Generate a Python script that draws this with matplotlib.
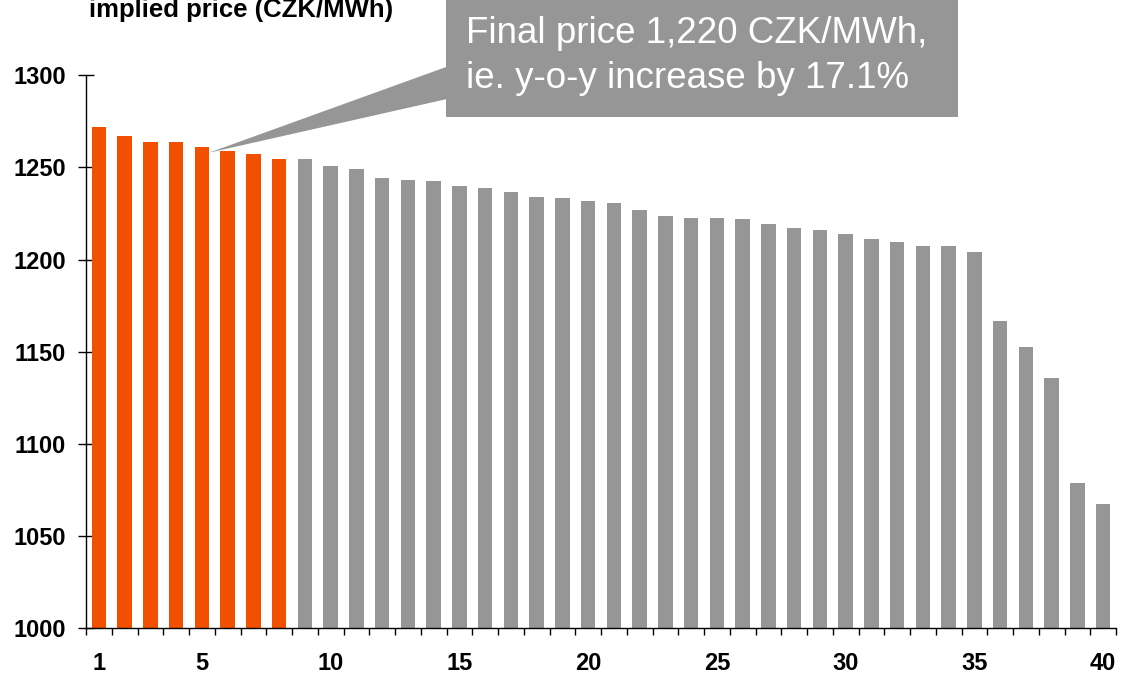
import matplotlib.pyplot as plt
import numpy as np
from matplotlib.patches import Polygon, Rectangle

plt.rcParams['font.family'] = ['Liberation Sans', 'DejaVu Sans']

# implied price per step, CZK/MWh
steps = np.arange(1, 41)
prices = [1272.0, 1267.0, 1264.0, 1264.0, 1261.0, 1258.9, 1257.3, 1254.6,
          1254.6, 1250.6, 1249.1, 1244.4, 1243.0, 1242.4, 1239.7, 1239.0,
          1236.8, 1234.1, 1233.4, 1231.6, 1230.7, 1226.7, 1223.5, 1222.5,
          1222.5, 1222.0, 1219.5, 1217.1, 1215.8, 1213.9, 1210.9, 1209.7,
          1207.5, 1207.5, 1204.3, 1166.6, 1152.5, 1135.9, 1078.7, 1067.3]
n_highlight = 8
x_ticks = [1, 5, 10, 15, 20, 25, 30, 35, 40]
y_ticks = [1000, 1050, 1100, 1150, 1200, 1250, 1300]

y_label = 'implied price (CZK/MWh)'
callout_lines = ['Final price 1,220 CZK/MWh,', 'ie. y-o-y increase by 17.1%']
callout_step = 5

ORANGE = '#F25000'
GREY = '#969696'

W, H = 1121, 673
fig = plt.figure(figsize=(W / 100, H / 100), dpi=100)
ax = fig.add_axes([86 / W, 1 - 628 / H, 1030 / W, (628 - 75.3) / H])


def fx(px):
    return px / W


def fy(py):
    return 1 - py / H


colors = [ORANGE if i < n_highlight else GREY for i in range(len(steps))]
ax.bar(steps, [p - 1000 for p in prices], bottom=1000, width=0.56,
       color=colors, edgecolor='none', zorder=2)

ax.set_xlim(0.5, 40.5)
ax.set_ylim(1000, 1300)
for side in ('top', 'right'):
    ax.spines[side].set_visible(False)
for side in ('left', 'bottom'):
    ax.spines[side].set_linewidth(1.0)
    ax.spines[side].set_color('black')

ax.set_xticks(x_ticks)
ax.set_xticks(np.arange(0.5, 41), minor=True)
ax.tick_params(axis='x', which='major', length=0, pad=17)
ax.tick_params(axis='x', which='minor', length=5, width=1, direction='out')
ax.set_yticks(y_ticks)
ax.tick_params(axis='y', which='major', length=11, width=1, direction='inout', pad=9)
for lbl in ax.get_xticklabels() + ax.get_yticklabels():
    lbl.set_fontsize(17)
    lbl.set_fontweight('bold')

fig.text(fx(89), fy(17.3), y_label, fontsize=18.5, fontweight='bold',
         ha='left', va='baseline')

# callout box with a wedge pointing at the chosen bar
box_left, box_right, box_bottom = 446, 958, 117.3
fig.patches.append(Rectangle((fx(box_left), fy(box_bottom)),
                             fx(box_right - box_left), 1 - fy(box_bottom) + 0.05,
                             transform=fig.transFigure, facecolor=GREY,
                             edgecolor='none', zorder=5))
tip = ax.transData.transform((callout_step + 0.28, prices[callout_step - 1] - 3))
tip = fig.transFigure.inverted().transform(tip)
fig.patches.append(Polygon([tuple(tip), (fx(box_left + 1), fy(66.7)),
                            (fx(box_left + 1), fy(99))], closed=True,
                           transform=fig.transFigure, facecolor=GREY,
                           edgecolor='none', zorder=5))
for text, base in zip(callout_lines, [43.3, 88.3]):
    fig.text(fx(466), fy(base), text, fontsize=26.5, color='white',
             ha='left', va='baseline', zorder=6)

fig.savefig('out.png', dpi=100)
